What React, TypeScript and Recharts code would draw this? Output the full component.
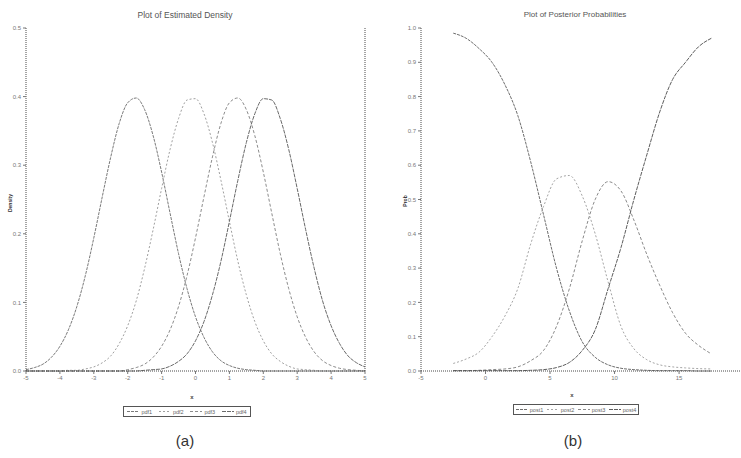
import { Line, LineChart, XAxis, YAxis } from "recharts";

// left panel: estimated densities
const densityX = [
  -5, -4.75, -4.5, -4.25, -4, -3.75, -3.5, -3.25, -3, -2.75, -2.5, -2.25, -2, -1.75, -1.5, -1.25, -1, -0.75, -0.5, -0.25,
  0, 0.25, 0.5, 0.75, 1, 1.25, 1.5, 1.75, 2, 2.25, 2.5, 2.75, 3, 3.25, 3.5, 3.75, 4, 4.25, 4.5, 4.75, 5,
];
const pdf1 = [
  0.002, 0.005, 0.01, 0.02, 0.036, 0.06, 0.094, 0.139, 0.194, 0.254, 0.312, 0.361, 0.391, 0.398, 0.381, 0.343, 0.29, 0.23, 0.171, 0.12,
  0.079, 0.049, 0.028, 0.015, 0.008, 0.004, 0.002, 0.001, 0, 0, 0, 0, 0, 0, 0, 0, 0, 0, 0, 0, 0,
];
const pdf2 = [
  0, 0, 0, 0, 0, 0.001, 0.001, 0.003, 0.006, 0.012, 0.022, 0.04, 0.066, 0.102, 0.15, 0.206, 0.266, 0.323, 0.368, 0.395,
  0.397, 0.375, 0.333, 0.278, 0.218, 0.16, 0.111, 0.072, 0.044, 0.025, 0.014, 0.007, 0.003, 0.002, 0.001, 0, 0, 0, 0, 0, 0,
];
const pdf3 = [
  0, 0, 0, 0, 0, 0, 0, 0, 0, 0, 0, 0, 0.002, 0.005, 0.01, 0.02, 0.036, 0.06, 0.094, 0.139,
  0.194, 0.254, 0.312, 0.361, 0.391, 0.398, 0.381, 0.343, 0.29, 0.23, 0.171, 0.12, 0.079, 0.049, 0.028, 0.015, 0.008, 0.004, 0.002, 0.001, 0,
];
const pdf4 = [
  0, 0, 0, 0, 0, 0, 0, 0, 0, 0, 0, 0, 0, 0, 0.001, 0.002, 0.003, 0.007, 0.014, 0.025,
  0.044, 0.072, 0.111, 0.16, 0.218, 0.278, 0.333, 0.375, 0.397, 0.395, 0.368, 0.323, 0.266, 0.206, 0.15, 0.102, 0.066, 0.04, 0.022, 0.012, 0.006,
];
const densityXTicks = [-5, -4, -3, -2, -1, 0, 1, 2, 3, 4, 5];
const densityYTicks = [0, 0.1, 0.2, 0.3, 0.4, 0.5];

// right panel: posterior probabilities
const postX = [-2.5, -1.5, -0.5, 0.5, 1.5, 2.5, 3.5, 4.5, 5.5, 6.5, 7.5, 8.5, 9.5, 10.5, 11.5, 12.5, 13.5, 14.5, 15.5, 16.5, 17.5];
const post1 = [0.985, 0.97, 0.94, 0.9, 0.835, 0.745, 0.61, 0.455, 0.3, 0.175, 0.085, 0.04, 0.018, 0.008, 0.004, 0.002, 0.001, 0.001, 0.001, 0, 0];
const post2 = [0.022, 0.035, 0.055, 0.1, 0.16, 0.24, 0.37, 0.48, 0.56, 0.57, 0.51, 0.4, 0.26, 0.13, 0.065, 0.033, 0.018, 0.012, 0.009, 0.007, 0.006];
const post3 = [0.001, 0.001, 0.002, 0.004, 0.006, 0.012, 0.03, 0.06, 0.13, 0.24, 0.38, 0.5, 0.552, 0.525, 0.44, 0.34, 0.25, 0.17, 0.11, 0.075, 0.05];
const post4 = [0.001, 0.001, 0.001, 0.001, 0.001, 0.001, 0.002, 0.004, 0.01, 0.025, 0.06, 0.12, 0.24, 0.36, 0.5, 0.63, 0.755, 0.85, 0.9, 0.945, 0.97];
const postXTicks = [-5, 0, 5, 10, 15];
const postYTicks = [0, 0.1, 0.2, 0.3, 0.4, 0.5, 0.6, 0.7, 0.8, 0.9, 1];

const densityData = densityX.map((x, i) => ({ x, pdf1: pdf1[i], pdf2: pdf2[i], pdf3: pdf3[i], pdf4: pdf4[i] }));
const postData = postX.map((x, i) => ({ x, post1: post1[i], post2: post2[i], post3: post3[i], post4: post4[i] }));

const FONT = "'Liberation Sans', Arial, sans-serif";
const AXIS = { stroke: "#4a4a4a", strokeDasharray: "1 1" };
const TICK = { fontSize: 6, fill: "#777", fontFamily: FONT };

const densitySeries = [
  { key: "pdf1", color: "#7a7a7a", dash: "3 1" },
  { key: "pdf2", color: "#a0a0a0", dash: "2 2" },
  { key: "pdf3", color: "#8c8c8c", dash: "3 2" },
  { key: "pdf4", color: "#6a6a6a", dash: "4 1" },
];
const postSeries = [
  { key: "post1", color: "#6e6e6e", dash: "3 1" },
  { key: "post2", color: "#a5a5a5", dash: "2 2" },
  { key: "post3", color: "#8a8a8a", dash: "3 2" },
  { key: "post4", color: "#5e5e5e", dash: "4 1" },
];

function LegendBox({ items, left, top, width }: { items: typeof densitySeries; left: number; top: number; width: number }) {
  return (
    <div
      style={{
        position: "absolute", left, top, width, height: 11, boxSizing: "border-box",
        border: "1px solid #555", display: "flex", alignItems: "center", justifyContent: "space-around",
        fontFamily: FONT, fontSize: 5.5, color: "#666",
      }}
    >
      {items.map((s) => (
        <span key={s.key} style={{ display: "flex", alignItems: "center", gap: 2 }}>
          <svg width={12} height={3}>
            <line x1={0} y1={1.5} x2={12} y2={1.5} stroke={s.color} strokeDasharray={s.dash} />
          </svg>
          {s.key}
        </span>
      ))}
    </div>
  );
}

const text = (t: string, left: number, top: number, size: number, extra: any = {}) => (
  <div
    style={{
      position: "absolute", left, top, transform: "translate(-50%, -50%)", whiteSpace: "nowrap",
      fontFamily: FONT, fontSize: size, color: "#555", lineHeight: 1, ...extra,
    }}
  >
    {t}
  </div>
);

export default function App() {
  return (
    <div style={{ position: "absolute", left: 0, top: 0, width: 741, height: 458, background: "#fff", overflow: "hidden" }}>
      {text("Plot of Estimated Density", 185, 15, 8.5)}
      {text("Plot of Posterior Probabilities", 575, 15, 8)}

      <LineChart
        width={380} height={392} data={densityData}
        margin={{ top: 28, right: 14, bottom: 0, left: 6 }}
        style={{ position: "absolute", left: 0, top: 0 }}
      >
        <XAxis
          dataKey="x" type="number" domain={[-5, 5]} ticks={densityXTicks} height={21}
          tickSize={3} axisLine={AXIS} tickLine={{ stroke: "#777" }} tick={TICK}
        />
        <XAxis xAxisId="top" dataKey="x" type="number" domain={[-5, 5]} orientation="top" height={0} tick={false} tickLine={false} axisLine={AXIS} />
        <YAxis
          type="number" domain={[0, 0.5]} ticks={densityYTicks} width={20} tickSize={3}
          tickFormatter={(v: number) => v.toFixed(1)} axisLine={AXIS} tickLine={{ stroke: "#777" }} tick={TICK}
        />
        <YAxis yAxisId="right" orientation="right" type="number" domain={[0, 0.5]} width={1} tick={false} tickLine={false} axisLine={AXIS} />
        {densitySeries.map((s) => (
          <Line
            key={s.key} type="monotone" dataKey={s.key} stroke={s.color} strokeWidth={1}
            strokeDasharray={s.dash} dot={false} isAnimationActive={false}
          />
        ))}
      </LineChart>

      <LineChart
        width={361} height={392} data={postData}
        margin={{ top: 28, right: 0, bottom: 0, left: 21 }}
        style={{ position: "absolute", left: 380, top: 0 }}
      >
        <XAxis
          dataKey="x" type="number" domain={[-5, 19.8]} allowDataOverflow ticks={postXTicks} height={21}
          tickSize={3} axisLine={AXIS} tickLine={{ stroke: "#777" }} tick={TICK}
        />
        <XAxis xAxisId="top" dataKey="x" type="number" domain={[-5, 19.8]} orientation="top" height={0} tick={false} tickLine={false} axisLine={AXIS} />
        <YAxis
          type="number" domain={[0, 1]} ticks={postYTicks} width={20} tickSize={3}
          tickFormatter={(v: number) => v.toFixed(1)} axisLine={AXIS} tickLine={{ stroke: "#777" }} tick={TICK}
        />
        {postSeries.map((s) => (
          <Line
            key={s.key} type="monotone" dataKey={s.key} stroke={s.color} strokeWidth={1}
            strokeDasharray={s.dash} dot={false} isAnimationActive={false}
          />
        ))}
      </LineChart>

      {text("Density", 10, 203, 5, { transform: "translate(-50%, -50%) rotate(-90deg)", fontWeight: "bold", color: "#333" })}
      {text("Prob", 405, 201, 5, { transform: "translate(-50%, -50%) rotate(-90deg)", fontWeight: "bold", color: "#333" })}
      {text("x", 192, 397, 6, { fontWeight: "bold", color: "#444" })}
      {text("x", 572, 395, 6, { fontWeight: "bold", color: "#444" })}

      <LegendBox items={densitySeries} left={123} top={406} width={128} />
      <LegendBox items={postSeries} left={513} top={404} width={126} />

      {text("(a)", 185, 440, 15, { color: "#333" })}
      {text("(b)", 573, 440, 15, { color: "#333" })}
    </div>
  );
}
